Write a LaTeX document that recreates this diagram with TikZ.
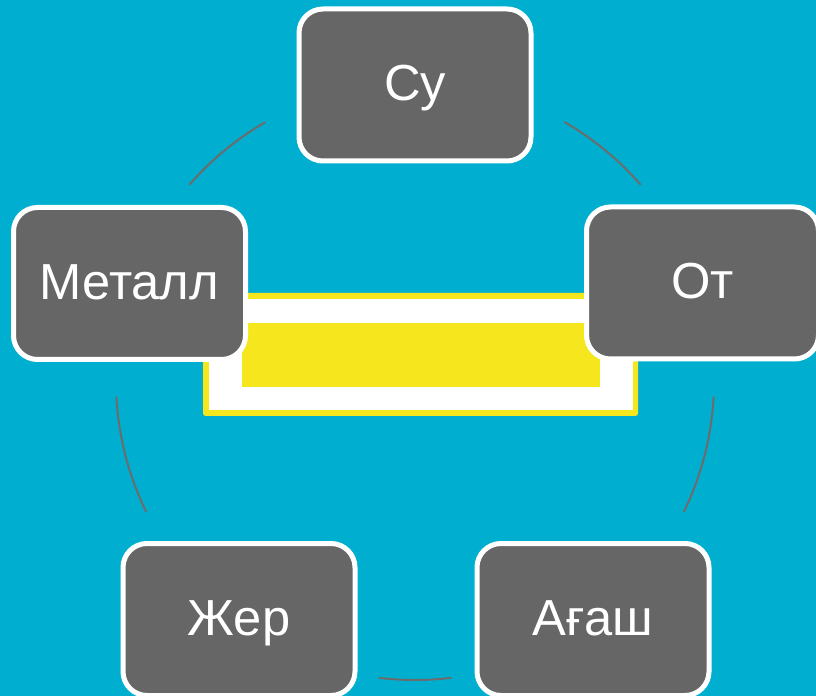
\documentclass[tikz,border=0pt]{standalone}
\usepackage{fontspec}
\setmainfont{Liberation Sans}
\definecolor{sky}{RGB}{0,175,208}
\definecolor{boxgray}{RGB}{102,102,102}
\definecolor{ringgray}{RGB}{108,108,108}
\definecolor{lemon}{RGB}{246,230,30}
\tikzset{
  element/.style={draw=white,line width=3.75pt,fill=boxgray,rounded corners=18pt,
    minimum width=174pt,minimum height=114pt,text=white,
    text height=31pt,text depth=7.6pt,font=\fontsize{38}{46}\selectfont},
  ring/.style={draw=ringgray,line width=1.5pt}
}

\begin{document}
\begin{tikzpicture}[x=0.75pt,y=0.75pt]
            \useasboundingbox (0,0) rectangle (816,696);
            \clip (0,0) rectangle (816,696);
            \fill[sky] (0,0) rectangle (816,696);
            \coordinate (ctr) at (415,315);
            % ring between the boxes
            \foreach \a/\b in {41/60,120/139,183/206,263/277,334/357}
                \draw[ring] ([shift={(\a:299)}]ctr) arc[start angle=\a,end angle=\b,radius=299];
            % centre frame
            \fill[lemon,rounded corners=2pt] (203,280) rectangle (638,403);
            \fill[white] (209,286) rectangle (633,397);
            \fill[lemon] (242,309) rectangle (600,373);
            % elements
            \node[element] (su) at (415,611) {Су};
            \node[element] (ot) at (702.5,413) {От};
            \node[element] (agash) at (593,76.5) {Ағаш};
            \node[element] (zher) at (239,76.5) {Жер};
            \node[element] (metall) at (129.5,412.5) {Металл};
        \end{tikzpicture}
\end{document}
